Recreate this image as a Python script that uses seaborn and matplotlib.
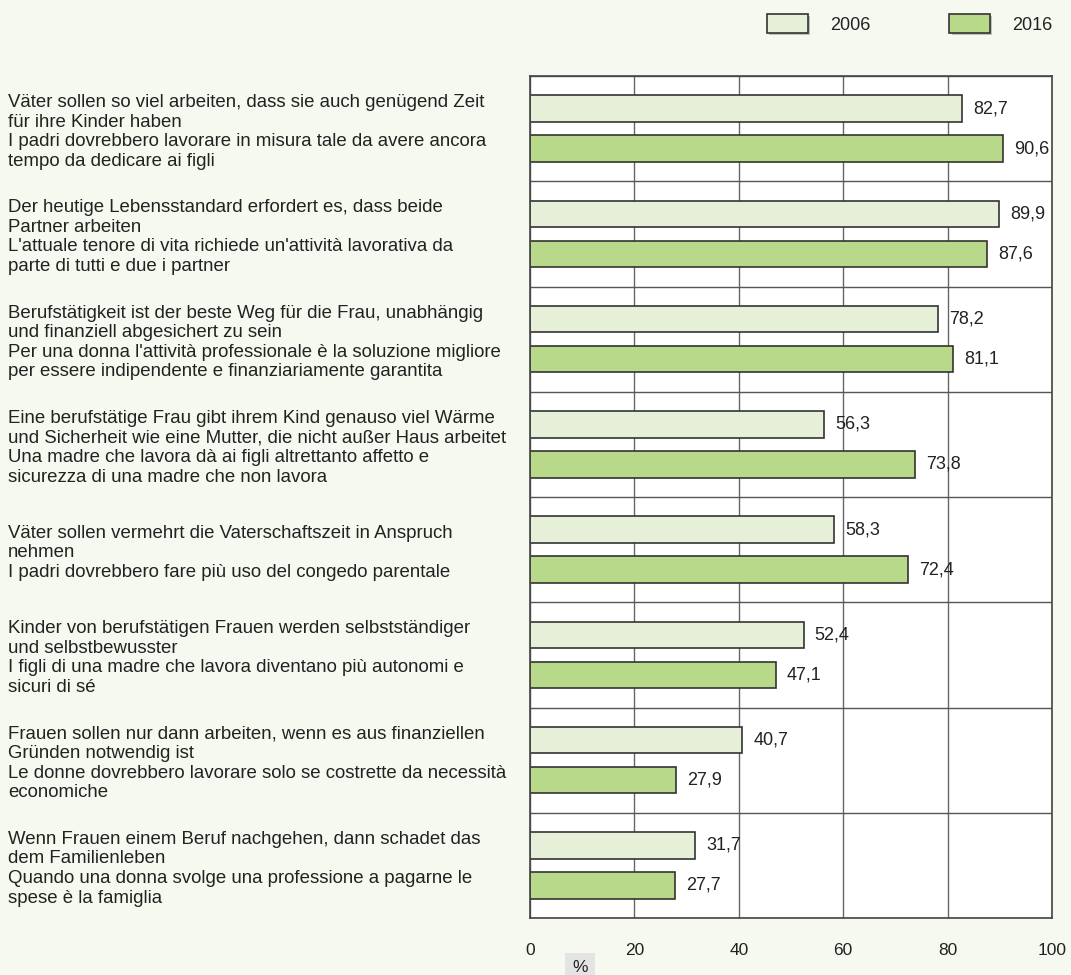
import numpy as np
import pandas as pd
import matplotlib
matplotlib.use("Agg")
import matplotlib.pyplot as plt
import matplotlib.patheffects as pe
from matplotlib.patches import Patch
import seaborn as sns

# data
labels = [
    "Väter sollen so viel arbeiten, dass sie auch genügend Zeit\nfür ihre Kinder haben\n"
    "I padri dovrebbero lavorare in misura tale da avere ancora\ntempo da dedicare ai figli",
    "Der heutige Lebensstandard erfordert es, dass beide\nPartner arbeiten\n"
    "L'attuale tenore di vita richiede un'attività lavorativa da\nparte di tutti e due i partner",
    "Berufstätigkeit ist der beste Weg für die Frau, unabhängig\nund finanziell abgesichert zu sein\n"
    "Per una donna l'attività professionale è la soluzione migliore\nper essere indipendente e finanziariamente garantita",
    "Eine berufstätige Frau gibt ihrem Kind genauso viel Wärme\nund Sicherheit wie eine Mutter, die nicht außer Haus arbeitet\n"
    "Una madre che lavora dà ai figli altrettanto affetto e\nsicurezza di una madre che non lavora",
    "Väter sollen vermehrt die Vaterschaftszeit in Anspruch\nnehmen\n"
    "I padri dovrebbero fare più uso del congedo parentale",
    "Kinder von berufstätigen Frauen werden selbstständiger\nund selbstbewusster\n"
    "I figli di una madre che lavora diventano più autonomi e\nsicuri di sé",
    "Frauen sollen nur dann arbeiten, wenn es aus finanziellen\nGründen notwendig ist\n"
    "Le donne dovrebbero lavorare solo se costrette da necessità\neconomiche",
    "Wenn Frauen einem Beruf nachgehen, dann schadet das\ndem Familienleben\n"
    "Quando una donna svolge una professione a pagarne le\nspese è la famiglia",
]
years = ["2006", "2016"]
vals_2006 = [82.7, 89.9, 78.2, 56.3, 58.3, 52.4, 40.7, 31.7]
vals_2016 = [90.6, 87.6, 81.1, 73.8, 72.4, 47.1, 27.9, 27.7]
xticks = [0, 20, 40, 60, 80, 100]

df = pd.DataFrame({
    "cat": labels * 2,
    "year": [years[0]] * len(labels) + [years[1]] * len(labels),
    "value": vals_2006 + vals_2016,
})

bg = "#f6f9f0"
colors = ["#e6f0d9", "#b9d98a"]
edge = "#333333"
txt = "#222222"

sns.set_style("white")
plt.rcParams["font.family"] = ["Liberation Sans", "DejaVu Sans"]

fig = plt.figure(figsize=(10.71, 9.75), dpi=100, facecolor=bg)
ax = fig.add_axes([530 / 1071, 1 - 918 / 975, (1052 - 530) / 1071, (918 - 76) / 975])
ax.set_facecolor("white")

sns.barplot(data=df, y="cat", x="value", hue="year", orient="h", palette=colors,
            saturation=1, edgecolor=edge, linewidth=1.2, width=0.76, gap=0.34,
            legend=False, ax=ax)

for cont in ax.containers:
    ax.bar_label(cont, labels=[f"{v:.1f}".replace(".", ",") for v in cont.datavalues],
                 padding=8, fontsize=13, color=txt)

ax.set_xlim(0, 100)
ax.set_ylim(len(labels) - 0.5, -0.5)
ax.set_xticks(xticks)
ax.set_xticklabels([str(t) for t in xticks], fontsize=12.5, color=txt)
ax.set_xlabel("")
ax.set_ylabel("")
ax.tick_params(axis="x", length=0, pad=18)

# category text on the far left
ax.tick_params(axis="y", which="both", length=0, pad=(530 - 8) * 0.72)
for lab in ax.get_yticklabels():
    lab.set_ha("left")
    lab.set_fontsize(13.4)
    lab.set_color(txt)
    lab.set_linespacing(1.2)

ax.set_yticks(np.arange(-0.5, len(labels), 1), minor=True)
ax.grid(False)
ax.grid(which="minor", axis="y", color="#555555", linewidth=1)
ax.grid(which="major", axis="x", color="#666666", linewidth=1)
ax.set_axisbelow(True)
for s in ax.spines.values():
    s.set_color("#444444")
    s.set_linewidth(1.2)

fig.text(580 / 1071, 1 - 967 / 975, "%", fontsize=12.5, color=txt, ha="center", va="center",
         bbox=dict(boxstyle="square,pad=0.4", facecolor="#e4e4e4", edgecolor="none"))

shadow = [pe.SimplePatchShadow(offset=(1.5, -1.5), shadow_rgbFace="#888888", alpha=0.5), pe.Normal()]
handles = [Patch(facecolor=c, edgecolor=edge, linewidth=1.2, path_effects=shadow) for c in colors]
fig.legend(handles, years, loc="center right", bbox_to_anchor=(1052 / 1071, 1 - 24 / 975),
           ncol=2, frameon=False, fontsize=13, handlelength=2.25, handleheight=1.2,
           handletextpad=1.2, columnspacing=4.4, borderpad=0, borderaxespad=0,
           labelcolor=txt)

fig.savefig("out.png", dpi=100, facecolor=bg)
